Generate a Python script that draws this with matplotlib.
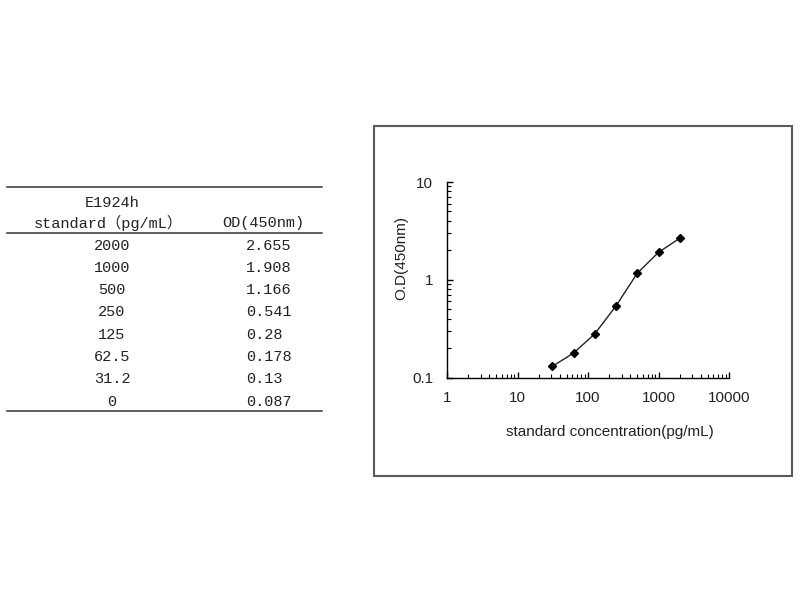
import matplotlib
matplotlib.use("Agg")
import matplotlib.pyplot as plt
from matplotlib.lines import Line2D
from matplotlib.patches import Rectangle
from matplotlib.ticker import LogLocator, FuncFormatter, NullFormatter

# standard curve data (E1924h)
conc = [2000, 1000, 500, 250, 125, 62.5, 31.2, 0]
od = [2.655, 1.908, 1.166, 0.541, 0.28, 0.178, 0.13, 0.087]
kit_name = "E1924h"
col_headers = ["standard\uff08pg/mL\uff09", "OD(450nm)"]
xlabel = "standard concentration(pg/mL)"
ylabel = "O.D(450nm)"

W, H = 800, 600
fig = plt.figure(figsize=(8, 6), dpi=100)


def px(x, y):
    # pixel coords (top-left origin) -> figure fraction
    return x / W, 1 - y / H


mono = ["Liberation Mono", "Noto Sans CJK SC"]
tcol = "#222222"

# ---- table on the left ----
for yline in (187.3, 232.5, 410.7):
    x0, y0 = px(7, yline)
    x1, _ = px(321.5, yline)
    fig.add_artist(Line2D([x0, x1], [y0, y0], color="#333333", lw=1.1))

fig.text(*px(112.5, 203), kit_name, family=mono, fontsize=11,
         ha="center", va="center", color=tcol)
fig.text(*px(108.5, 223), col_headers[0], family=mono, fontsize=11,
         ha="center", va="center", color=tcol)
fig.text(*px(263, 223), col_headers[1], family=mono, fontsize=11,
         ha="center", va="center", color=tcol)

row_y0, row_dy = 245.5, 22.3
for i, (c, v) in enumerate(zip(conc, od)):
    y = row_y0 + i * row_dy
    fig.text(*px(112, y), f"{c:g}", family=mono, fontsize=11,
             ha="center", va="center", color=tcol)
    fig.text(*px(246, y), f"{v:g}", family=mono, fontsize=11,
             ha="left", va="center", color=tcol)

# ---- chart box ----
bx0, by0 = px(374, 475.7)
bx1, by1 = px(792, 125.7)
fig.add_artist(Rectangle((bx0, by0), bx1 - bx0, by1 - by0, transform=fig.transFigure,
                         fill=False, edgecolor="#5a5a5a", lw=1.5))

ax_l, ax_b = px(447, 377.5)
ax_r, ax_t = px(729, 182)
ax = fig.add_axes([ax_l, ax_b, ax_r - ax_l, ax_t - ax_b])

pts = [(c, v) for c, v in zip(conc, od) if c > 0]
xs = [p[0] for p in pts]
ys = [p[1] for p in pts]
ax.plot(xs, ys, color="#222222", lw=1.0, marker="D", markersize=3.8,
        markerfacecolor="black", markeredgecolor="black")

ax.set_xscale("log")
ax.set_yscale("log")
ax.set_xlim(1, 10000)
ax.set_ylim(0.1, 10)

for s in ("top", "right"):
    ax.spines[s].set_visible(False)
for s in ("left", "bottom"):
    ax.spines[s].set_color("black")
    ax.spines[s].set_linewidth(1.0)

sans = "Liberation Sans"
fmt = FuncFormatter(lambda v, _: f"{v:g}")
ax.xaxis.set_major_locator(LogLocator(base=10, numticks=10))
ax.yaxis.set_major_locator(LogLocator(base=10, numticks=10))
ax.xaxis.set_minor_locator(LogLocator(base=10, subs=range(2, 10), numticks=20))
ax.yaxis.set_minor_locator(LogLocator(base=10, subs=range(2, 10), numticks=20))
ax.xaxis.set_major_formatter(fmt)
ax.yaxis.set_major_formatter(fmt)
ax.xaxis.set_minor_formatter(NullFormatter())
ax.yaxis.set_minor_formatter(NullFormatter())

ax.tick_params(which="major", direction="in", length=4, width=1, color="black")
ax.tick_params(which="minor", direction="in", length=3, width=0.8, color="black")
ax.tick_params(axis="x", which="major", pad=10)
ax.tick_params(axis="y", which="major", pad=10)
for lab in ax.get_xticklabels() + ax.get_yticklabels():
    lab.set_fontfamily(sans)
    lab.set_fontsize(11)
    lab.set_color("#222222")

ax.set_xlabel(xlabel, fontsize=11, family=sans, color="#222222")
ax.set_ylabel(ylabel, fontsize=11, family=sans, color="#222222")
ax.xaxis.set_label_coords(0.576, -0.277)
ax.yaxis.set_label_coords(-0.163, 0.611)
ax.xaxis.label.set_va("center")
ax.yaxis.label.set_va("center")

fig.savefig("out.png", dpi=100, facecolor="white")
